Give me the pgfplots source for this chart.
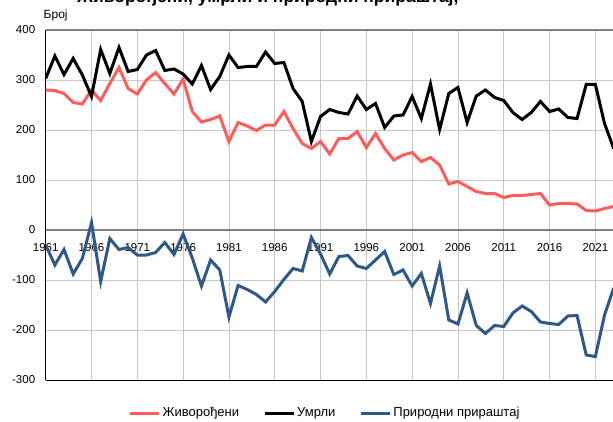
\documentclass[border=0pt]{standalone}
\usepackage{fontspec}
\setmainfont{Liberation Sans}
\usepackage{pgfplots}
\usepackage{pgfplotstable}
\pgfplotsset{compat=1.18}
\definecolor{cred}{RGB}{255,92,92}
\definecolor{cblue}{RGB}{47,88,136}
\definecolor{cgrid}{RGB}{200,200,200}
\definecolor{czero}{RGB}{128,128,128}

\pgfplotstableread{
year born died nat
1961 280 303 -30
1962 279 348 -70
1963 273 311 -39
1964 255 343 -88
1965 252 310 -57
1966 280 267 15
1967 259 361 -103
1968 293 313 -17
1969 325 365 -39
1970 283 317 -35
1971 272 321 -50
1972 300 350 -50
1973 315 359 -45
1974 293 319 -25
1975 272 322 -49
1976 302 312 -8
1977 237 292 -56
1978 216 329 -112
1979 221 281 -60
1980 228 307 -80
1981 177 350 -174
1982 215 325 -111
1983 208 327 -119
1984 199 327 -129
1985 210 356 -144
1986 210 333 -123
1987 237 335 -99
1988 203 283 -77
1989 173 257 -82
1990 163 177 -15
1991 177 227 -48
1992 152 241 -88
1993 183 235 -53
1994 183 232 -51
1995 197 268 -72
1996 165 241 -77
1997 193 253 -60
1998 163 205 -43
1999 140 228 -89
2000 150 230 -80
2001 155 267 -112
2002 137 223 -87
2003 145 292 -147
2004 130 201 -72
2005 92 273 -180
2006 97 285 -188
2007 87 215 -126
2008 77 268 -191
2009 73 280 -207
2010 73 265 -191
2011 65 259 -193
2012 69 235 -166
2013 69 221 -152
2014 71 235 -163
2015 73 257 -184
2016 50 237 -187
2017 53 242 -189
2018 53 225 -172
2019 52 223 -171
2020 39 291 -250
2021 38 291 -253
2022 43 213 -170
2023 47 163 -116
}\datatable

\begin{document}
\begin{tikzpicture}[x=1pt,y=1pt]
\useasboundingbox (-45.7,-41) rectangle (567.3,380);
\begin{axis}[
  at={(0pt,0pt)}, anchor=south west,
  scale only axis, width=568pt, height=350pt,
  xmin=1961, xmax=2023, ymin=-300, ymax=400,
  xtick={1961,1966,...,2021},
  ytick={-300,-200,...,400},
  /pgf/number format/set thousands separator={},
  /pgf/number format/assume math mode=true,
  grid=major,
  grid style={cgrid, line width=0.8pt},
  major tick length=0pt,
  axis lines*=left,
  axis line style={black, line width=1pt},
  extra y ticks={0,400},
  extra y tick labels={},
  extra y tick style={grid style={czero, line width=1.3pt}},
  ticklabel style={font=\fontsize{11.5}{13}\selectfont, text=black},
  yticklabel style={xshift=-7pt},
  xticklabel style={yshift=140pt},
  legend columns=3,
  legend style={draw=none, fill=none, at={(0.4917,-0.0943)}, anchor=center,
    font=\fontsize{13}{15}\selectfont,
    /tikz/every even column/.append style={column sep=22pt}},
  legend image code/.code={\draw[#1, line width=3pt] (0pt,0pt) -- (29pt,0pt);},
]
\addplot[cred, line width=3pt, no markers] table[x=year, y=born] {\datatable};
\addlegendentry{Живорођени}
\addplot[black, line width=3pt, no markers] table[x=year, y=died] {\datatable};
\addlegendentry{Умрли}
\addplot[cblue, line width=3pt, no markers] table[x=year, y=nat] {\datatable};
\addlegendentry{Природни прираштај}
\end{axis}
\node[anchor=base west, font=\fontsize{12}{14}\selectfont] at (-5.5,361) {Број};
\node[anchor=base west, inner sep=0pt, font=\bfseries\fontsize{17.5}{20}\selectfont] at (31.3,377) {Живорођени, умрли и природни прираштај,};
\end{tikzpicture}
\end{document}
